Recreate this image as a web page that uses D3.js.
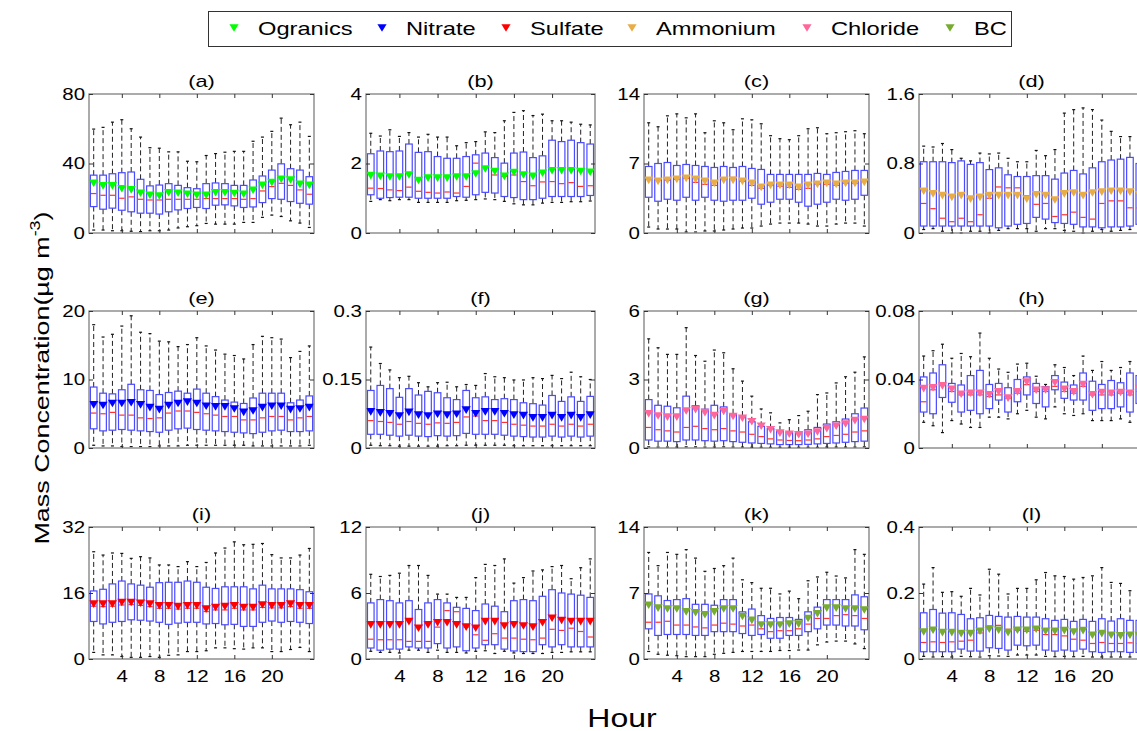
<!DOCTYPE html>
<html>
<head>
<meta charset="utf-8">
<script src="https://cdn.jsdelivr.net/npm/d3@7"></script>
<style>
  body { margin: 0; background: #fff; }
  text { font-family: "Liberation Sans", Arial, sans-serif; fill: #000; }
</style>
</head>
<body>
<svg id="chart"></svg>
<script>
// hours on the x axis
var hours = d3.range(1, 25);
var hourTicks = [4, 8, 12, 16, 20];

// (a) Organics
var a_hi = [59.8,60.8,63.8,65.2,60,55.2,49.1,48.8,46.7,46.7,41.3,41,44.6,45.7,46.5,47,47,52.8,55.2,58.5,66.1,62.3,63.8,55.6];
var a_q3 = [33.3,33.3,34.1,34.7,35.1,30.9,27.1,27.6,28.4,27.4,26.1,25.5,28.4,28.8,28.4,27.4,27.4,30.5,32.8,36.2,39.8,37,36.2,32.4];
var a_med = [22.7,21.7,21.7,20,20.8,19.4,19,19,19.4,19.4,19.4,19.4,19.8,19.8,19.8,19.8,19.4,19.8,24.2,26.7,28.6,27.4,24.8,22.3];
var a_q1 = [15.2,13.7,14.3,13.1,12.2,11.4,11.4,10.9,12.2,13.3,14.1,14.7,14.1,16,16.2,15.6,14.7,15,17.5,19.8,19.4,18.1,17.1,16.6];
var a_lo = [1.7,1.7,1.3,1.3,1,0.8,1.3,1.3,1.7,2.9,3.6,4.2,5.5,5.1,5.1,5.1,6.1,6.1,9,10.3,9.5,7,5.7,3.2];
var a_mean = [28.6,27.1,27.1,25.5,24.8,22.9,21.7,21.3,23.2,22.9,22.3,21.7,21.7,23.2,23.2,22.7,22.3,24.6,27.4,29,30.9,30.5,28,27.4];

// (b) Organics
var b_hi = [2.87,2.79,2.97,2.78,2.89,2.76,2.84,2.76,2.76,2.51,2.6,2.63,2.91,2.89,3.23,3.47,3.52,3.38,3.42,3.23,3.23,3.19,3.13,3.11];
var b_q3 = [2.28,2.36,2.34,2.36,2.56,2.32,2.34,2.2,2.15,2.15,2.2,2.25,2.3,2.17,2.01,2.3,2.33,2.17,2.22,2.67,2.63,2.67,2.6,2.56];
var b_med = [1.29,1.28,1.24,1.22,1.32,1.2,1.17,1.15,1.18,1.15,1.34,2.01,1.91,1.67,1.63,1.67,1.48,1.36,1.47,1.48,1.42,1.45,1.34,1.36];
var b_q1 = [1.1,1,1.02,1.03,1.03,1,1,1,1,1.05,1.03,1.1,1.17,1.15,1.05,1.02,0.96,0.96,1,1.05,1.05,1.05,1.05,1.08];
var b_lo = [0.91,0.96,0.93,0.96,0.96,0.88,0.88,0.88,0.88,0.93,0.94,0.96,0.98,0.96,0.91,0.84,0.81,0.81,0.86,0.88,0.88,0.9,0.9,0.92];
var b_mean = [1.65,1.63,1.61,1.61,1.67,1.51,1.58,1.58,1.58,1.61,1.61,1.7,1.84,1.77,1.63,1.74,1.67,1.63,1.72,1.79,1.79,1.79,1.77,1.75];

// (c) Ammonium
var c_hi = [11.1,10.7,11.8,12,11.6,12,10.1,11.3,11.1,10.4,11.5,11.4,11,9.8,9.5,9.4,9.8,10.5,10.6,10,10.1,10.2,10.3,10];
var c_q3 = [6.7,7,7.1,6.8,6.9,6.8,6.7,6.6,6.7,6.6,6.7,6.5,6.4,5.9,5.9,5.9,5.9,5.9,6,5.9,6.1,6.2,6.3,6.3];
var c_med = [5.4,5.3,5.3,5.4,5.5,5.1,4.9,4.8,5.4,5.6,5.2,4.8,4.5,4.8,4.7,4.6,4.4,4.5,4.9,4.9,4.8,5,5,5.2];
var c_q1 = [3.6,3.2,3.4,3.3,3.6,3.3,3.6,3.3,3.2,3.3,3.3,3.5,2.9,3.1,3.4,3.4,3.1,2.7,2.9,3.1,3.4,3.3,3.4,3.8];
var c_lo = [0.6,0.4,0.4,0.4,0.1,0.1,0.2,0.2,0.3,0.4,0.5,0.5,0.7,0.9,1,1,1,0.9,0.7,0.7,0.9,1,1,0.7];
var c_mean = [5.3,5.2,5.3,5.4,5.5,5.4,5.2,5,5.3,5.3,5.2,5,4.6,4.8,4.8,4.8,4.6,4.8,4.9,5,4.9,5,5,5.1];

// (d) Ammonium
var d_hi = [1.0,0.99,1.03,0.96,0.86,0.83,0.92,0.91,0.92,0.86,0.82,0.82,0.95,0.89,0.96,1.38,1.42,1.44,1.42,1.3,1.17,1.11,1.11,1.05];
var d_q3 = [0.82,0.82,0.82,0.81,0.83,0.79,0.81,0.73,0.75,0.67,0.65,0.65,0.66,0.66,0.62,0.69,0.72,0.68,0.75,0.82,0.84,0.85,0.87,0.8];
var d_med = [0.34,0.28,0.17,0.13,0.17,0.13,0.21,0.4,0.53,0.52,0.52,0.43,0.33,0.34,0.19,0.21,0.24,0.18,0.16,0.34,0.37,0.37,0.29,0.29];
var d_q1 = [0.08,0.08,0.08,0.08,0.08,0.08,0.08,0.08,0.06,0.08,0.1,0.11,0.18,0.16,0.12,0.11,0.1,0.07,0.07,0.06,0.07,0.07,0.08,0.1];
var d_lo = [0.04,0.05,0.02,0,0,0.02,0.02,0,0.03,0.05,0.05,0.05,0.02,0.05,0.05,0.03,0.02,0,0.02,0.04,0.02,0.03,0.04,0.04];
var d_mean = [0.48,0.45,0.43,0.41,0.43,0.39,0.41,0.43,0.43,0.43,0.43,0.39,0.44,0.43,0.38,0.45,0.46,0.43,0.46,0.47,0.48,0.48,0.47,0.44];

// (e) Nitrate
var e_hi = [18,16.2,16.6,17.8,19.3,16.9,16.7,15.6,15.5,14.8,15.1,16.1,14.9,14.3,13.7,13.5,13,15.1,16.3,16.1,15.9,13.2,14.1,14.9];
var e_q3 = [8.9,8,7.9,8.5,9.3,8.5,8.4,7.8,8.1,8.3,8,8.6,8,7.5,7,6.7,6.5,7.3,8,8,8,6.6,7,7.6];
var e_med = [5.1,5,5.2,4.8,4.8,4.4,4.3,4.4,5.1,5.4,5.4,5.2,5,4.8,4.6,4.6,4.1,4.1,4.4,4.6,4.6,4.1,4.4,4.6];
var e_q1 = [2.8,2.5,2.6,2.7,2.6,2.5,2.4,2.3,2.6,2.8,2.9,2.7,2.6,2.5,2.4,2.3,2.2,2.1,2.3,2.5,2.6,2.4,2.4,2.5];
var e_lo = [0.4,0.3,0.3,0.2,0.2,0.2,0.2,0.3,0.3,0.3,0.4,0.4,0.4,0.4,0.4,0.4,0.4,0.3,0.3,0.3,0.3,0.3,0.3,0.4];
var e_mean = [6.3,6.2,6.5,6.5,6.6,6.3,5.9,5.6,6.2,6.5,6.7,6.5,6.1,6,6,5.7,5.2,5.4,5.9,6.1,6.1,5.6,5.7,5.9];

// (f) Nitrate
var f_hi = [0.221,0.185,0.171,0.154,0.157,0.143,0.134,0.143,0.144,0.134,0.139,0.137,0.163,0.156,0.154,0.149,0.149,0.154,0.152,0.159,0.152,0.166,0.156,0.15];
var f_q3 = [0.126,0.137,0.13,0.111,0.13,0.116,0.124,0.121,0.11,0.106,0.126,0.11,0.112,0.106,0.108,0.106,0.099,0.097,0.094,0.115,0.102,0.112,0.102,0.113];
var f_med = [0.06,0.058,0.056,0.052,0.058,0.054,0.052,0.055,0.054,0.056,0.068,0.07,0.06,0.06,0.056,0.052,0.05,0.048,0.048,0.052,0.048,0.052,0.048,0.052];
var f_q1 = [0.03,0.03,0.028,0.026,0.028,0.026,0.025,0.027,0.026,0.027,0.032,0.03,0.03,0.03,0.028,0.026,0.025,0.024,0.024,0.026,0.024,0.026,0.024,0.026];
var f_lo = [0.006,0.005,0.005,0.004,0.004,0.004,0.004,0.004,0.005,0.005,0.006,0.006,0.006,0.006,0.006,0.005,0.005,0.005,0.005,0.005,0.005,0.005,0.005,0.005];
var f_mean = [0.079,0.077,0.075,0.07,0.078,0.072,0.07,0.074,0.072,0.074,0.083,0.075,0.079,0.079,0.075,0.072,0.071,0.066,0.066,0.071,0.066,0.071,0.066,0.072];

// (g) Chloride
var g_hi = [4.78,4.39,4.1,4.1,5.27,4.05,3.8,4.29,4.17,3.47,2.93,2.27,1.71,1.54,1.1,1.24,1.42,1.61,2.34,2.41,2.85,3.12,3.32,3.99];
var g_q3 = [2.12,1.87,1.83,1.76,2.27,1.85,1.7,1.87,1.8,1.5,1.4,1.15,0.95,0.85,0.75,0.7,0.7,0.8,0.9,1.05,1.15,1.27,1.5,1.75];
var g_med = [0.9,0.8,0.75,0.7,0.9,0.95,0.85,0.8,0.85,0.75,0.7,0.6,0.5,0.4,0.35,0.33,0.32,0.35,0.4,0.5,0.55,0.6,0.7,0.75];
var g_q1 = [0.35,0.3,0.3,0.28,0.35,0.35,0.32,0.3,0.32,0.28,0.25,0.22,0.2,0.18,0.15,0.15,0.15,0.16,0.18,0.2,0.22,0.25,0.28,0.3];
var g_lo = [0.05,0.04,0.04,0.04,0.05,0.05,0.04,0.04,0.05,0.04,0.04,0.03,0.03,0.03,0.03,0.03,0.03,0.03,0.03,0.04,0.04,0.04,0.04,0.05];
var g_mean = [1.5,1.4,1.35,1.35,1.62,1.68,1.55,1.42,1.6,1.38,1.3,1.15,0.95,0.8,0.65,0.6,0.58,0.6,0.7,0.85,0.95,1.05,1.2,1.25];

// (h) Chloride
var h_hi = [0.0537,0.0568,0.0606,0.0524,0.0552,0.0533,0.0671,0.0524,0.0461,0.0442,0.049,0.0495,0.0419,0.0371,0.0486,0.047,0.0423,0.0537,0.0453,0.0505,0.0453,0.047,0.0505,0.0629];
var h_q3 = [0.0415,0.0438,0.0486,0.0377,0.0368,0.0423,0.0453,0.0371,0.0377,0.0352,0.04,0.0415,0.0377,0.0358,0.0423,0.0385,0.0368,0.0438,0.039,0.0371,0.0394,0.0381,0.0438,0.0423];
var h_med = [0.027,0.034,0.038,0.033,0.031,0.031,0.031,0.03,0.031,0.029,0.032,0.037,0.033,0.033,0.036,0.033,0.032,0.036,0.031,0.031,0.031,0.032,0.031,0.033];
var h_q1 = [0.021,0.02,0.0295,0.0267,0.021,0.022,0.02,0.023,0.028,0.021,0.027,0.031,0.026,0.024,0.034,0.029,0.028,0.028,0.022,0.023,0.023,0.024,0.021,0.026];
var h_lo = [0.015,0.013,0.009,0.016,0.014,0.012,0.012,0.018,0.018,0.017,0.02,0.022,0.018,0.017,0.024,0.02,0.019,0.02,0.016,0.016,0.016,0.017,0.015,0.017];
var h_mean = [0.0347,0.0352,0.0362,0.0343,0.0314,0.032,0.032,0.0311,0.0328,0.0291,0.0328,0.0385,0.0337,0.0339,0.0381,0.0343,0.0328,0.0371,0.0311,0.0324,0.032,0.0324,0.032,0.0347];

// (i) Sulfate
var i_hi = [26,25.2,25.7,25.6,24.4,24.8,24.5,22.8,22.8,22.4,23.6,22.4,23.4,25.7,26.9,28.4,27.7,27.8,28,25.3,24.5,24.5,25.2,26.8];
var i_q3 = [16.5,16.9,18.2,18.9,18.2,17.9,17.4,18.5,18.6,18.6,18.9,18.6,17.4,17.1,17.5,17.5,17.5,17,17.9,17,17,17,16.8,16.3];
var i_med = [12.8,12.7,12.8,13.1,13.2,13,12.7,12.3,12.3,12.1,12.3,12.3,11.5,11.9,11.9,12.3,11.9,11.9,12.5,12.4,12.4,12.7,12.3,12.3];
var i_q1 = [9.1,8.5,8.9,9.1,9.5,9.4,9.2,8.9,8.4,8.7,8.9,8.9,8.5,8.6,8.3,8.4,7.9,7.9,8.9,9.2,8.9,9.1,8.9,8.6];
var i_lo = [1.6,1,1,0.6,0.4,0.4,0.6,0.4,0.9,1,1.8,1.8,2,2.7,2.7,2.5,2.4,2.7,2.7,1.8,1.8,2.3,2.8,1.8];
var i_mean = [13.3,13.3,13.3,13.7,13.7,13.5,13.3,12.9,12.9,12.7,12.9,12.9,12.1,12.5,12.7,12.9,12.5,12.5,13.1,12.9,12.9,13.3,12.9,12.9];

// (j) Sulfate
var j_hi = [7.7,7.5,7.6,7.8,8.5,8.5,7.6,5.9,5.9,5.6,5.6,7.4,8.6,8.5,9.1,6.9,7.4,8,8.1,8.4,8.5,7.3,8.3,9.1];
var j_q3 = [5.1,5.4,5.3,5.1,5.3,4.5,5.1,5.4,5.1,4.7,4.6,4.4,5,4.8,4.3,5.3,5.4,5.3,5.7,6.3,6,5.9,5.8,5.6];
var j_med = [1.8,1.75,1.75,1.75,1.6,1.6,1.6,2.9,4.4,4.3,2.9,2.2,1.7,2.3,1.9,1.9,1.8,1.75,1.9,2.7,2.6,2.8,2.5,2.0];
var j_q1 = [1,0.8,0.9,0.9,1.1,1,1,1.4,1,1.1,0.75,1,1.3,1.3,0.9,0.73,0.67,0.67,1.3,1.1,1.3,1.1,1.1,1.1];
var j_lo = [0.7,0.6,0.6,0.55,0.8,0.8,0.6,0.8,0.6,0.6,0.55,0.7,0.75,0.5,0.7,0.55,0.5,0.5,0.5,0.6,0.6,0.65,0.65,0.65];
var j_mean = [3.1,3.1,3.1,3.1,3.4,2.8,3.1,3.3,3.3,3.1,2.9,2.8,3.4,3.4,3,3.1,3,2.9,3.3,3.7,3.5,3.4,3.4,3.4];

// (k) BC
var k_hi = [11.3,9.9,11.3,11.1,11.6,10.7,9.3,9.6,9.9,10.7,8.4,8.1,7.5,7.5,6.9,7.2,6.4,8.3,8.7,9.2,8.8,8.6,11.6,11.1];
var k_q3 = [6.9,6.7,6.2,6.3,6.4,5.8,5.8,5.7,6.3,6.3,5,5.3,4.6,4.3,4.4,4.4,4.2,5,5.5,6.3,6.3,6.3,6.8,6.6];
var k_med = [3.9,3.9,4,3.6,3.6,3.4,3.3,3.6,3.8,3.7,3.5,3.6,3.2,2.9,3,3,3.2,3.7,4.3,4.3,4.6,4.7,4.6,4.3];
var k_q1 = [3.2,2.5,2.6,2.6,2.6,2.5,2.5,2.9,2.9,2.9,2.7,2.5,2.6,2.2,2.2,2.5,2.5,2.9,3.2,3.6,3.6,3.5,3.5,3.1];
var k_lo = [0.8,0.5,0.4,0.35,0.25,0.25,0.25,0.5,0.6,0.7,0.8,0.8,0.8,0.8,0.9,0.9,0.95,0.95,1.5,1.8,1.9,1.9,1.6,1.1];
var k_mean = [5.7,5.4,5.3,5.3,5,4.9,4.7,5,5.3,5.3,4.5,4.1,3.6,3.6,3.6,3.7,3.7,4.3,4.8,5.4,5.4,5.3,5.3,5.2];

// (l) BC
var l_hi = [0.227,0.277,0.202,0.204,0.19,0.214,0.194,0.272,0.257,0.197,0.214,0.214,0.24,0.262,0.252,0.25,0.242,0.247,0.252,0.277,0.232,0.229,0.207,0.2];
var l_q3 = [0.14,0.15,0.139,0.14,0.135,0.122,0.125,0.132,0.129,0.127,0.129,0.127,0.127,0.122,0.117,0.12,0.114,0.12,0.114,0.122,0.115,0.122,0.117,0.117];
var l_med = [0.05,0.052,0.05,0.052,0.054,0.057,0.079,0.1,0.102,0.09,0.087,0.084,0.087,0.074,0.074,0.07,0.06,0.057,0.047,0.05,0.047,0.047,0.049,0.047];
var l_q1 = [0.022,0.022,0.022,0.022,0.03,0.024,0.024,0.034,0.032,0.027,0.042,0.04,0.042,0.027,0.024,0.027,0.024,0.03,0.022,0.02,0.022,0.022,0.02,0.02];
var l_lo = [0.008,0.006,0.007,0.006,0.008,0.007,0.006,0.01,0.009,0.008,0.012,0.012,0.012,0.008,0.007,0.008,0.007,0.008,0.006,0.006,0.006,0.006,0.006,0.006];
var l_mean = [0.082,0.087,0.08,0.08,0.077,0.077,0.084,0.09,0.087,0.08,0.087,0.087,0.09,0.084,0.084,0.086,0.082,0.086,0.072,0.077,0.072,0.07,0.072,0.07];

// y tick labels per panel
var yTicks = [[0,40,80],[0,2,4],[0,7,14],[0,0.8,1.6],
              [0,10,20],[0,0.15,0.3],[0,3,6],[0,0.04,0.08],
              [0,16,32],[0,6,12],[0,7,14],[0,0.2,0.4]];
var titles = ["(a)","(b)","(c)","(d)","(e)","(f)","(g)","(h)","(i)","(j)","(k)","(l)"];

var species = ["Ogranics","Nitrate","Sulfate","Ammonium","Chloride","BC"];
var speciesColor = {"Ogranics":"#00ff00","Nitrate":"#0000ff","Sulfate":"#ff0000",
                    "Ammonium":"#e9ad48","Chloride":"#ff6699","BC":"#77ac30"};
var panelSpecies = ["Ogranics","Ogranics","Ammonium","Ammonium","Nitrate","Nitrate",
                    "Chloride","Chloride","Sulfate","Sulfate","BC","BC"];

var stats = [
  [a_lo,a_q1,a_med,a_q3,a_hi,a_mean],[b_lo,b_q1,b_med,b_q3,b_hi,b_mean],
  [c_lo,c_q1,c_med,c_q3,c_hi,c_mean],[d_lo,d_q1,d_med,d_q3,d_hi,d_mean],
  [e_lo,e_q1,e_med,e_q3,e_hi,e_mean],[f_lo,f_q1,f_med,f_q3,f_hi,f_mean],
  [g_lo,g_q1,g_med,g_q3,g_hi,g_mean],[h_lo,h_q1,h_med,h_q3,h_hi,h_mean],
  [i_lo,i_q1,i_med,i_q3,i_hi,i_mean],[j_lo,j_q1,j_med,j_q3,j_hi,j_mean],
  [k_lo,k_q1,k_med,k_q3,k_hi,k_mean],[l_lo,l_q1,l_med,l_q3,l_hi,l_mean]
];

var SX = 1.28; // the figure text is stretched wide
var svgWidth = 1137, svgHeight = 731;
var colLeft = [89, 366, 644, 919], colW = [225, 229, 225, 225];
var rowTop = [94, 311, 527], rowH = [139, 137, 132];

var svg = d3.select("#chart").attr("width", svgWidth).attr("height", svgHeight);

var tri = "M-4.6,-3.8L4.6,-3.8L0,3.8Z";

function stext(g, x, y, str, size, anchor) {
  return g.append("text")
    .attr("transform", `translate(${x},${y}) scale(${SX},1)`)
    .attr("font-size", size)
    .attr("text-anchor", anchor)
    .text(str);
}

stats.forEach(function(st, p) {
  var r = Math.floor(p / 4), c = p % 4;
  var w = colW[c], h = rowH[r];
  var color = speciesColor[panelSpecies[p]];
  var g = svg.append("g").attr("transform", `translate(${colLeft[c]},${rowTop[r]})`);

  var x = d3.scaleLinear().domain([0.5, 24.5]).range([0, w]);
  var y = d3.scaleLinear().domain([0, yTicks[p][2]]).range([h, 0]);

  var rows = hours.map(function(hr, k) {
    return {hr: hr, lo: st[0][k], q1: st[1][k], med: st[2][k], q3: st[3][k], hi: st[4][k], mean: st[5][k]};
  });

  var bw = 6.6, cw = 3;

  // whiskers
  g.selectAll(".wu").data(rows).enter().append("line")
    .attr("x1", d => x(d.hr)).attr("x2", d => x(d.hr))
    .attr("y1", d => y(d.q3)).attr("y2", d => y(d.hi))
    .attr("stroke", "#222").attr("stroke-width", 1).attr("stroke-dasharray", "5,3");
  g.selectAll(".wl").data(rows).enter().append("line")
    .attr("x1", d => x(d.hr)).attr("x2", d => x(d.hr))
    .attr("y1", d => y(d.q1)).attr("y2", d => y(d.lo))
    .attr("stroke", "#222").attr("stroke-width", 1).attr("stroke-dasharray", "5,3");
  // whisker caps
  ["hi", "lo"].forEach(function(key) {
    g.selectAll(".cap-" + key).data(rows).enter().append("line")
      .attr("x1", d => x(d.hr) - cw / 2).attr("x2", d => x(d.hr) + cw / 2)
      .attr("y1", d => y(d[key])).attr("y2", d => y(d[key]))
      .attr("stroke", "#111").attr("stroke-width", 1.2);
  });

  // boxes
  g.selectAll(".box").data(rows).enter().append("rect")
    .attr("x", d => x(d.hr) - bw / 2).attr("width", bw)
    .attr("y", d => y(d.q3)).attr("height", d => y(d.q1) - y(d.q3))
    .attr("fill", "none").attr("stroke", "#4a4aff").attr("stroke-width", 1.2);

  // medians
  g.selectAll(".med").data(rows).enter().append("line")
    .attr("x1", d => x(d.hr) - bw / 2 + 0.6).attr("x2", d => x(d.hr) + bw / 2 - 0.6)
    .attr("y1", d => y(d.med)).attr("y2", d => y(d.med))
    .attr("stroke", "#ff3030").attr("stroke-width", 1.2);

  // means
  g.selectAll(".mean").data(rows).enter().append("path")
    .attr("d", tri)
    .attr("transform", d => `translate(${x(d.hr)},${y(d.mean)})`)
    .attr("fill", color);

  // frame
  g.append("rect").attr("width", w).attr("height", h)
    .attr("fill", "none").attr("stroke", "#7f7f7f").attr("stroke-width", 1.3);

  // axes, ticks inside on all sides
  var fmt = d3.format("~g");
  var left = g.append("g").call(d3.axisLeft(y).tickValues(yTicks[p]).tickSize(-4).tickPadding(4 / SX).tickFormat(fmt));
  g.append("g").attr("transform", `translate(${w},0)`)
    .call(d3.axisRight(y).tickValues(yTicks[p]).tickSize(-4).tickFormat(""));
  var bottom = g.append("g").attr("transform", `translate(0,${h})`)
    .call(d3.axisBottom(x).tickValues(hourTicks).tickSize(-4).tickPadding(12)
      .tickFormat(r === 2 ? d3.format("d") : ""));
  g.append("g").call(d3.axisTop(x).tickValues(hourTicks).tickSize(-4).tickFormat(""));

  g.selectAll(".domain").remove();
  g.selectAll(".tick line").attr("stroke", "#333");
  left.selectAll("text").attr("font-size", 16).attr("transform", `scale(${SX},1)`).attr("fill", "#000");
  bottom.selectAll("text").attr("font-size", 16).attr("transform", `scale(${SX},1)`).attr("fill", "#000");
  g.selectAll(".tick text").attr("font-family", null);

  // panel title
  stext(g, w / 2, -7, titles[p], 17, "middle");
});

// legend
var legendX = [234, 382, 506, 632, 807, 950];
var legend = svg.append("g");
legend.append("rect").attr("x", 208.5).attr("y", 11.5).attr("width", 803).attr("height", 35)
  .attr("fill", "#fff").attr("stroke", "#333").attr("stroke-width", 1);
species.forEach(function(s, k) {
  legend.append("path").attr("d", tri)
    .attr("transform", `translate(${legendX[k]},28)`)
    .attr("fill", speciesColor[s]);
  stext(legend, legendX[k] + 24, 35, s, 18.5, "start");
});

// axis labels
stext(svg, 622, 727, "Hour", 25, "middle");

var yl = svg.append("text")
  .attr("transform", `translate(49,378) rotate(-90) scale(${SX},1)`)
  .attr("font-size", 21)
  .attr("text-anchor", "middle");
yl.append("tspan").text("Mass Concentration(\u00b5g m");
yl.append("tspan").attr("font-size", 14).attr("dy", -9).text("-3");
yl.append("tspan").attr("dy", 9).text(")");
</script>
</body>
</html>
